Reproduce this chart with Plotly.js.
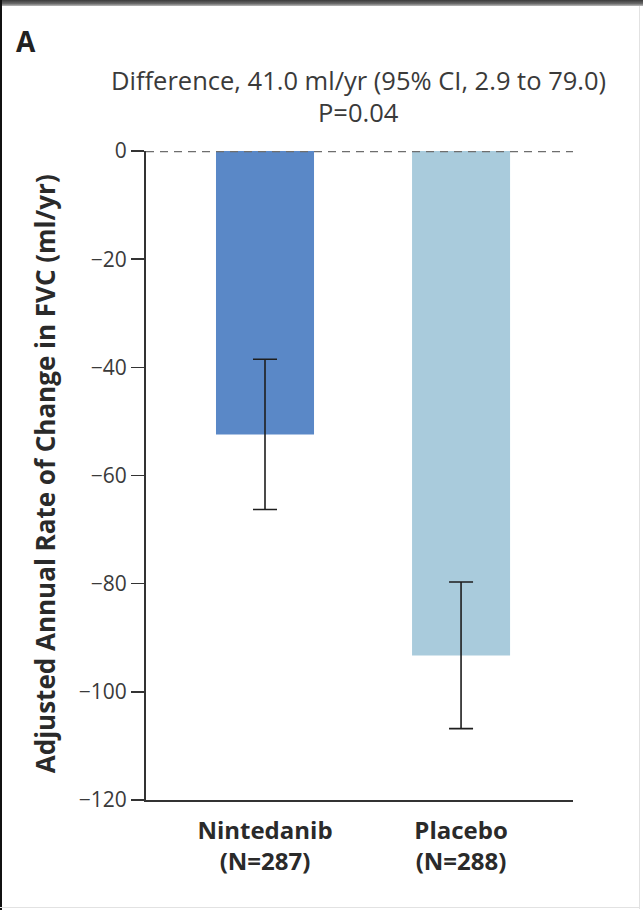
<!DOCTYPE html>
<html>
<head>
<meta charset="utf-8">
<script src="https://cdn.plot.ly/plotly-3.0.1.min.js"></script>
<style>
  html, body { margin: 0; padding: 0; background: #fff; }
  #wrap { position: relative; width: 643px; height: 910px; overflow: hidden; }
  #chart { width: 643px; height: 910px; }
  #frame { position: absolute; left: 0; top: 0; width: 643px; height: 910px; pointer-events: none; }
  #frame .top { position: absolute; left: 0; top: 0; width: 643px; height: 6px; background: linear-gradient(#3a3a3a, #6a6a6a 60%, #bbbbbb); }
  #frame .left { position: absolute; left: 0; top: 0; width: 2px; height: 910px; background: #111; }
  #frame .right { position: absolute; left: 639px; top: 6px; width: 1px; height: 903px; background: #e2e2e2; }
  #frame .bottom { position: absolute; left: 0; top: 907px; width: 640px; height: 1px; background: #e2e2e2; }
</style>
</head>
<body>
<div id="wrap">
  <div id="chart"></div>
  <div id="frame"><div class="top"></div><div class="left"></div><div class="right"></div><div class="bottom"></div></div>
</div>
<script>
// Data
const categories = ["Nintedanib<br>(N=287)", "Placebo<br>(N=288)"];
const rates = [-52.4, -93.3];
const errorPlus = [13.9, 13.6];
const errorMinus = [13.9, 13.5];
const barColors = ["#5a88c7", "#a9cbdc"];
const yTicks = [0, -20, -40, -60, -80, -100, -120];
const titleLine1 = "Difference, 41.0 ml/yr (95% CI, 2.9 to 79.0)";
const titleLine2 = "P=0.04";
const panelLabel = "A";
const yTitle = "Adjusted Annual Rate of Change in FVC (ml/yr)";

const font = "'Open Sans', 'DejaVu Sans', sans-serif";

const trace = {
  type: "bar",
  x: categories,
  y: rates,
  width: 0.5,
  marker: { color: barColors, line: { width: 0 } },
  error_y: {
    type: "data",
    symmetric: false,
    array: errorPlus,
    arrayminus: errorMinus,
    color: "#1e1e1e",
    thickness: 1.6,
    width: 12
  },
  hoverinfo: "skip"
};

const layout = {
  width: 643,
  height: 910,
  margin: { l: 146, r: 70, t: 151, b: 110, pad: 0 },
  paper_bgcolor: "#ffffff",
  plot_bgcolor: "#ffffff",
  showlegend: false,
  font: { family: font, color: "#333333", size: 20 },
  xaxis: {
    type: "category",
    range: [-0.607, 1.571],
    showline: true,
    linecolor: "#333333",
    linewidth: 2,
    ticks: "",
    ticklabelstandoff: 8,
    showgrid: false,
    zeroline: false,
    tickfont: { family: font, size: 24, color: "#2a2a2a", weight: "bold" },
    fixedrange: true
  },
  yaxis: {
    range: [-120, 0],
    tickvals: yTicks,
    ticktext: yTicks.map(v => v === 0 ? "0" : "\u2212" + Math.abs(v)),
    ticks: "outside",
    ticklen: 13,
    tickwidth: 1.5,
    tickcolor: "#333333",
    showline: true,
    linecolor: "#333333",
    linewidth: 2,
    showgrid: false,
    zeroline: false,
    tickfont: { family: font, size: 21, color: "#3a3a3a" },
    fixedrange: true
  },
  shapes: [
    {
      type: "line", xref: "paper", yref: "y",
      x0: 0, x1: 1, y0: 0, y1: 0,
      line: { color: "#6e6e6e", width: 2.5, dash: "8px,6px" },
      layer: "above"
    }
  ],
  annotations: [
    {
      text: panelLabel, showarrow: false,
      xref: "paper", yref: "paper",
      x: -0.281, y: 1.1695, xanchor: "center", yanchor: "middle",
      font: { family: font, size: 28, color: "#222222", weight: "bold" }
    },
    {
      text: titleLine1, showarrow: false,
      xref: "paper", yref: "paper",
      x: 0.497, y: 1.1094, xanchor: "center", yanchor: "middle",
      font: { family: font, size: 25.5, color: "#3a3a3a" }
    },
    {
      text: titleLine2, showarrow: false,
      xref: "paper", yref: "paper",
      x: 0.497, y: 1.060, xanchor: "center", yanchor: "middle",
      font: { family: font, size: 25.5, color: "#3a3a3a" }
    },
    {
      text: yTitle, showarrow: false, textangle: -90,
      xref: "paper", yref: "paper",
      x: -0.2365, y: 0.502, xanchor: "center", yanchor: "middle",
      font: { family: font, size: 26, color: "#2a2a2a", weight: "bold" }
    }
  ]
};

Plotly.newPlot("chart", [trace], layout, { displayModeBar: false, staticPlot: true });
</script>
</body>
</html>
